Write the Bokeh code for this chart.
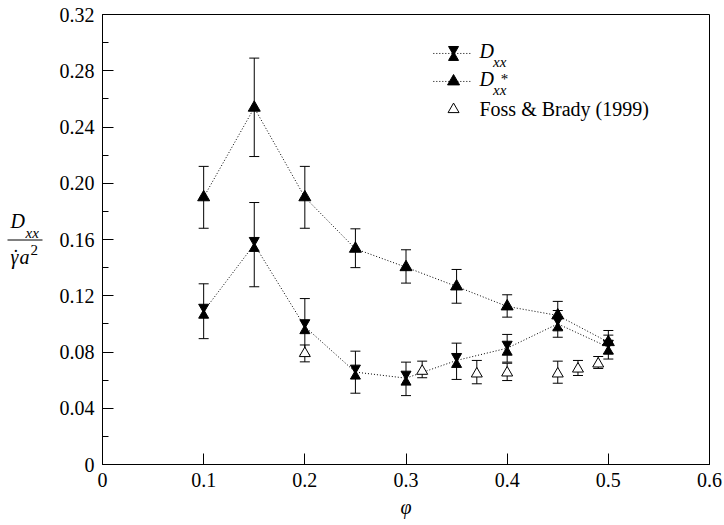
from bokeh.plotting import figure
from bokeh.layouts import row
from bokeh.models import (ColumnDataSource, Whisker, TeeHead, FixedTicker, Range1d)
from bokeh.transform import dodge
from bokeh.core.properties import value
from bokeh.embed import file_html
from bokeh.resources import INLINE

# ---------------- data ----------------
phi = [0.1, 0.15, 0.2, 0.25, 0.3, 0.35, 0.4, 0.45, 0.5]

dxx = [0.109, 0.1565, 0.098, 0.0657, 0.0614, 0.074, 0.0827, 0.100, 0.0834]
dxx_lo = [0.0895, 0.1264, 0.078, 0.0507, 0.049, 0.0605, 0.0728, 0.0905, 0.075]
dxx_hi = [0.1285, 0.1863, 0.118, 0.0806, 0.0728, 0.0863, 0.0925, 0.1095, 0.092]

dstar = [0.19, 0.2537, 0.19, 0.1534, 0.1403, 0.1266, 0.1124, 0.106, 0.087]
dstar_lo = [0.168, 0.219, 0.168, 0.140, 0.129, 0.1147, 0.1048, 0.096, 0.079]
dstar_hi = [0.212, 0.289, 0.212, 0.1676, 0.1527, 0.1387, 0.1207, 0.116, 0.0953]

phi_fb = [0.2, 0.316, 0.37, 0.4, 0.45, 0.47, 0.49]
fb = [0.079, 0.0664, 0.0645, 0.0652, 0.0645, 0.068, 0.0716]
fb_lo = [0.073, 0.0617, 0.0574, 0.0597, 0.0578, 0.0633, 0.0683]
fb_hi = [0.085, 0.0735, 0.074, 0.072, 0.0735, 0.074, 0.0768]

x_ticks = [0, 0.1, 0.2, 0.3, 0.4, 0.5, 0.6]
x_tick_labels = ["0", "0.1", "0.2", "0.3", "0.4", "0.5", "0.6"]
y_ticks = [0, 0.04, 0.08, 0.12, 0.16, 0.2, 0.24, 0.28, 0.32]
y_tick_labels = ["0", "0.04", "0.08", "0.12", "0.16", "0.20", "0.24", "0.28", "0.32"]
y_minor = [0.02, 0.06, 0.1, 0.14, 0.18, 0.22, 0.26, 0.3]

legend_labels = ["D", "xx", "*", "Foss & Brady (1999)"]
ylabel_parts = ["D", "xx", "γ", "˙", "a", "2"]

FONT = "Liberation Serif"
FS = "20px"
SUB = "15px"

LW = 50  # width of the y-label strip
TOP, BOT = 14, 61

p = figure(width=724 - LW, height=525, output_backend="svg", toolbar_location=None,
           x_range=Range1d(0, 0.6), y_range=Range1d(0, 0.32),
           min_border_left=102 - LW, min_border_right=15, min_border_top=TOP,
           min_border_bottom=BOT)
p.grid.visible = False
p.outline_line_color = "black"
p.outline_line_width = 1
p.outline_line_alpha = 1
p.background_fill_color = "white"
p.border_fill_color = "white"

xa = p.xaxis[0]
xa.ticker = FixedTicker(ticks=x_ticks)
xa.major_label_overrides = dict(zip(x_ticks, x_tick_labels))
ya = p.yaxis[0]
ya.ticker = FixedTicker(ticks=y_ticks, minor_ticks=y_minor)
ya.major_label_overrides = dict(zip(y_ticks, y_tick_labels))

for ax in (xa, ya):
    ax.axis_line_color = "black"
    ax.major_tick_line_color = "black"
    ax.minor_tick_line_color = "black"
    ax.major_tick_out = 0
    ax.major_tick_in = 11
    ax.minor_tick_out = 0
    ax.major_label_text_font = FONT
    ax.major_label_text_font_size = FS
    ax.major_label_text_color = "black"
    ax.major_label_standoff = 8
xa.minor_tick_in = 0
ya.minor_tick_in = 6

xa.axis_label = "φ"
xa.axis_label_text_font = FONT
xa.axis_label_text_font_style = "italic"
xa.axis_label_text_font_size = FS
xa.axis_label_text_color = "black"
xa.axis_label_standoff = 6

# ---------------- sources ----------------
s_dxx = ColumnDataSource(dict(x=phi, y=dxx, lo=dxx_lo, hi=dxx_hi))
s_dst = ColumnDataSource(dict(x=phi, y=dstar, lo=dstar_lo, hi=dstar_hi))
s_fb = ColumnDataSource(dict(x=phi_fb, y=fb, lo=fb_lo, hi=fb_hi))

def whisk(src):
    w = Whisker(source=src, base="x", upper="hi", lower="lo",
                line_color="black", line_width=1,
                upper_head=TeeHead(size=10, line_color="black", line_width=1),
                lower_head=TeeHead(size=10, line_color="black", line_width=1))
    p.add_layout(w)

whisk(s_dst)
whisk(s_dxx)
whisk(s_fb)

p.line("x", "y", source=s_dst, line_color="black", line_width=1, line_dash="1 2")
p.line("x", "y", source=s_dxx, line_color="black", line_width=1, line_dash="1 2")

p.scatter("x", "y", source=s_dst, marker="triangle", size=12,
          fill_color="black", line_color="black")

OFF = 0.0029  # half-height of hourglass halves
p.scatter("x", dodge("y", OFF, range=p.y_range), source=s_dxx,
          marker="inverted_triangle", size=10, fill_color="black", line_color="black")
p.scatter("x", dodge("y", -OFF, range=p.y_range), source=s_dxx,
          marker="triangle", size=10, fill_color="black", line_color="black")

p.scatter("x", "y", source=s_fb, marker="triangle", size=11,
          fill_color="white", line_color="black", line_width=1)

# ---------------- legend (manual) ----------------
lx0, lx1, lxm, ltx = 0.327, 0.364, 0.347, 0.3726
ly = [0.2923, 0.2724, 0.2525]
for yy in ly[:2]:
    p.line([lx0, lx1], [yy, yy], line_color="black", line_width=1, line_dash="1 2")
p.scatter([lxm], [ly[0] + OFF], marker="inverted_triangle", size=10,
          fill_color="black", line_color="black")
p.scatter([lxm], [ly[0] - OFF], marker="triangle", size=10,
          fill_color="black", line_color="black")
p.scatter([lxm], [ly[1]], marker="triangle", size=12,
          fill_color="black", line_color="black")
p.scatter([lxm], [ly[2]], marker="triangle", size=11,
          fill_color="white", line_color="black")

def t(fig, x, y, s, size=FS, style="italic", baseline="middle"):
    fig.text([x], [y], text=[s], text_font=value(FONT), text_font_size=size,
             text_font_style=style, text_color="black", text_baseline=baseline,
             text_align="left")

t(p, ltx, ly[0] + 0.0015, legend_labels[0])
t(p, ltx + 0.0135, ly[0] - 0.006, legend_labels[1], size=SUB)
t(p, ltx, ly[1] + 0.0015, legend_labels[0])
t(p, ltx + 0.021, ly[1] + 0.002, legend_labels[2], size=SUB, style="normal")
t(p, ltx + 0.0135, ly[1] - 0.006, legend_labels[1], size=SUB)
t(p, ltx, ly[2], legend_labels[3], style="normal")

# ---------------- y axis label strip (fraction D_xx / γ̇a²) ----------------
q = figure(width=LW, height=525, output_backend="svg", toolbar_location=None,
           x_range=Range1d(0, LW), y_range=Range1d(525 - BOT, TOP),
           min_border_left=0, min_border_right=0, min_border_top=TOP,
           min_border_bottom=BOT, x_axis_type=None, y_axis_type=None)
q.grid.visible = False
q.outline_line_color = None
q.background_fill_color = "white"
q.border_fill_color = "white"

t(q, 10, 220, ylabel_parts[0], baseline="alphabetic")
t(q, 25, 232, ylabel_parts[1], size=SUB, baseline="alphabetic")
q.line([7, 42], [239.5, 239.5], line_color="black", line_width=1)
t(q, 10, 256, ylabel_parts[2], baseline="alphabetic")
t(q, 12, 256, ylabel_parts[3], style="normal", baseline="alphabetic")
t(q, 19, 256, ylabel_parts[4], baseline="alphabetic")
t(q, 30, 249, ylabel_parts[5], size=SUB, style="normal", baseline="alphabetic")

layout = row(q, p, spacing=0)
open("out.html", "w").write(file_html(layout, INLINE))
